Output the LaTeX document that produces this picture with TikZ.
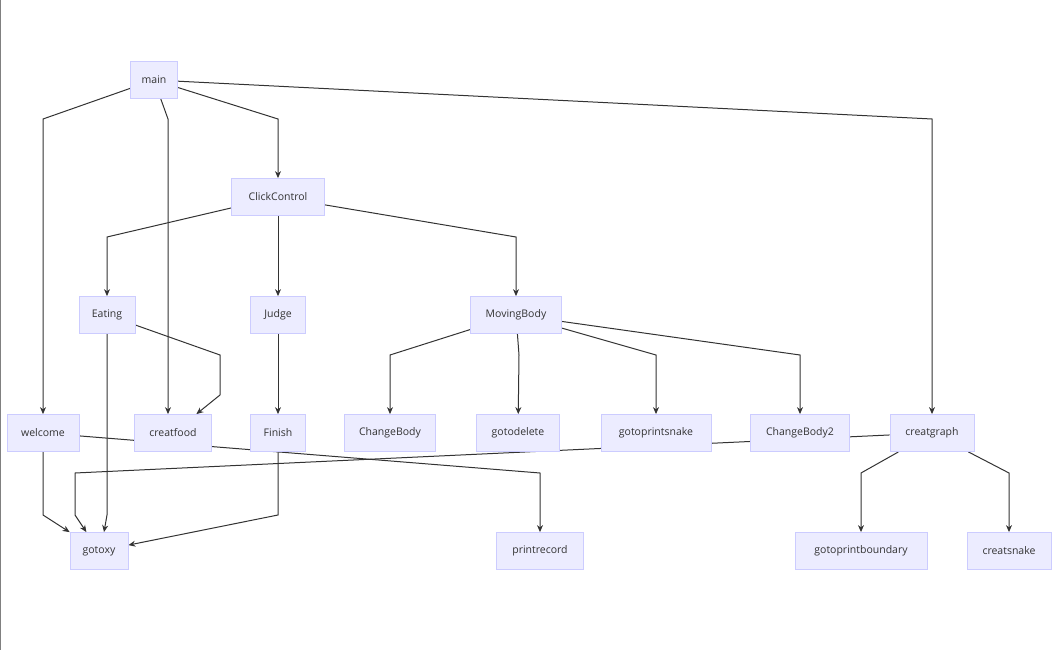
\documentclass[tikz,border=0pt]{standalone}
\usepackage{fontspec}
\setmainfont{Open Sans}
\usetikzlibrary{arrows.meta,backgrounds,calc}
\definecolor{nfill}{HTML}{ECECFF}
\definecolor{nline}{HTML}{CCCCFF}
\definecolor{eline}{HTML}{333333}
\begin{document}
\begin{tikzpicture}[x=1pt,y=-1pt,
  box/.style={draw=nline,fill=nfill,line width=0.8pt,minimum height=37pt,inner sep=0pt,font=\fontsize{10.5}{12}\selectfont,text=eline},
  edge/.style={draw=eline,line width=1pt,-{Stealth[length=7pt,width=6pt]}}]
\useasboundingbox (0,0) rectangle (1058,650);
\draw[gray,line width=1pt] (0.5,0) -- (0.5,650);
\node[box,minimum width=47pt] (main) at (154,80) {main};
\node[box,minimum width=93pt] (CC) at (278,197) {ClickControl};
\node[box,minimum width=56pt] (Eating) at (107,315) {Eating};
\node[box,minimum width=55pt] (Judge) at (278,315) {Judge};
\node[box,minimum width=91pt] (MB) at (516,315) {MovingBody};
\node[box,minimum width=72pt] (welcome) at (43,433) {welcome};
\node[box,minimum width=77pt] (creatfood) at (173,433) {creatfood};
\node[box,minimum width=55pt] (Finish) at (278,433) {Finish};
\node[box,minimum width=91pt] (ChangeBody) at (390,433) {ChangeBody};
\node[box,minimum width=83pt] (gotodelete) at (518,433) {gotodelete};
\node[box,minimum width=110pt] (gps) at (656,433) {gotoprintsnake};
\node[box,minimum width=99pt] (CB2) at (800,433) {ChangeBody2};
\node[box,minimum width=84pt] (cg) at (932,433) {creatgraph};
\node[box,minimum width=58pt] (gotoxy) at (99,551) {gotoxy};
\node[box,minimum width=87pt] (printrecord) at (540,551) {printrecord};
\node[box,minimum width=132pt] (gpb) at (861,551) {gotoprintboundary};
\node[box,minimum width=84pt] (cs) at (1009,551) {creatsnake};
\begin{scope}[on background layer]
\path[edge] (main) -- (43,119) -- (welcome);
\path[edge] (main) -- (168,119) -- ($(creatfood.north)+(-5,0)$);
\path[edge] (main) -- (278,119) -- (CC);
\path[edge] (main) -- (932,119) -- (cg);
\path[edge] (CC) -- (107,237) -- (Eating);
\path[edge] (CC) -- (Judge);
\path[edge] (CC) -- (516,237) -- (MB);
\path[edge] (Eating) -- (220,355) -- (220,395) -- (creatfood);
\path[edge] (Eating) -- (107,515) -- ($(gotoxy.north)+(5,0)$);
\path[edge] (Judge) -- (Finish);
\path[edge] (MB) -- (390,355) -- (ChangeBody);
\path[edge] (MB) -- (519,355) -- (gotodelete);
\path[edge] (MB) -- (656,355) -- (gps);
\path[edge] (MB) -- (800,355) -- (CB2);
\path[edge] (welcome) -- (43,515) -- (gotoxy);
\path[edge] (welcome) -- (540,473) -- (printrecord);
\path[edge] (Finish) -- (278,515) -- (gotoxy);
\path[edge] (cg) -- (75,473) -- (75,515) -- (gotoxy);
\path[edge] (cg) -- (861,473) -- (gpb);
\path[edge] (cg) -- (1009,473) -- (cs);
\end{scope}
\end{tikzpicture}
\end{document}
